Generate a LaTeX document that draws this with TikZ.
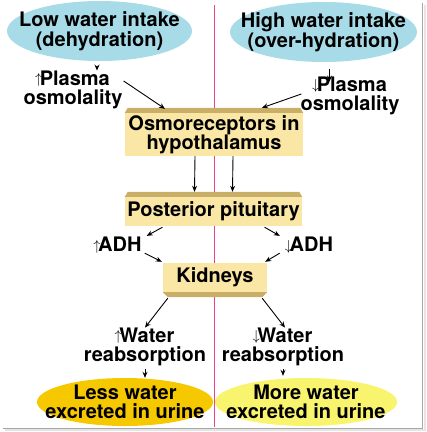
\documentclass[tikz,border=0pt]{standalone}
\usepackage{fontspec}
\setmainfont{TeX Gyre Heros}
\usetikzlibrary{shapes.geometric, arrows.meta}

\definecolor{sky}{RGB}{168,219,232}
\definecolor{boxfill}{RGB}{250,231,166}
\definecolor{bevelc}{RGB}{201,174,104}
\definecolor{gold}{RGB}{246,200,0}
\definecolor{lemon}{RGB}{249,244,110}
\definecolor{divpink}{RGB}{232,66,138}

\newcommand{\uparr}{\kern-1pt\raisebox{1.5pt}{\fontsize{15}{15}\selectfont$\uparrow$}\kern-2.5pt}
\newcommand{\dnarr}{\kern-1pt\raisebox{1.5pt}{\fontsize{15}{15}\selectfont$\downarrow$}\kern-2.5pt}

\begin{document}
\begin{tikzpicture}[x=1pt, y=-1pt,
    font=\bfseries\fontsize{20}{19.5}\selectfont,
    txt/.style={inner sep=0, align=center},
    blob/.style={ellipse, inner sep=0},
    box/.style={fill=boxfill, inner sep=0, align=center},
    bevel/.style={fill=bevelc},
    arr/.style={-{Stealth[length=6pt,width=5pt]}, line width=0.9pt}]
	% frame and divider
	\useasboundingbox (0,0) rectangle (427,432);
	\fill[gray!20] (423.5,5) rectangle (426,431);
	\fill[gray!20] (5,428.5) rectangle (426,431);
	\draw[gray!70, line width=1pt] (422,3) -- (422,428) -- (3,428);
	\draw[divpink, line width=1.3pt] (214.5,5) -- (214.5,427);
	
	% water intake
	\node[blob, fill=sky, minimum width=185, minimum height=60] (lowin) at (99.5,31) {};
	\node[txt] at (lowin) {Low water intake\\(dehydration)};
	\node[blob, fill=sky, minimum width=187, minimum height=60] (highin) at (323.5,32) {};
	\node[txt] at (highin) {High water intake\\(over-hydration)};
	\node[txt] (plasmaL) at (73,90) {\uparr Plasma\\osmolality};
	\node[txt] (plasmaR) at (350,96) {\dnarr Plasma\\osmolality};
	
	% boxes
	\node[box, minimum width=178, minimum height=43] (osmo) at (214,134.5) {Osmoreceptors in\\hypothalamus};
	\node[box, minimum width=177, minimum height=29] (pit) at (213.5,211.5) {Posterior pituitary};
	\node[box, minimum width=104, minimum height=29] (kid) at (215,277.5) {Kidneys};
	\foreach \n in {osmo, pit}
		\fill[bevel] (\n.north west) -- ([shift={(3,-5)}]\n.north west) -- ([shift={(-3,-5)}]\n.north east) -- (\n.north east) -- cycle;
	\fill[bevel] (kid.south west) -- ([shift={(5,5)}]kid.south west) -- ([shift={(-5,5)}]kid.south east) -- (kid.south east) -- cycle;
	
	% hormone and kidney response
	\node[txt] (adhL) at (118,245) {\uparr ADH};
	\node[txt] (adhR) at (309.5,245) {\dnarr ADH};
	\node[txt] (waterL) at (145,347) {\uparr Water\\reabsorption};
	\node[txt] (waterR) at (283,347) {\dnarr Water\\reabsorption};
	
	% outcome
	\node[blob, fill=gold, minimum width=176, minimum height=48] (lessout) at (125,402) {};
	\node[txt] at (lessout) {Less water\\excreted in urine};
	\node[blob, fill=lemon, minimum width=182, minimum height=48] (moreout) at (306,402) {};
	\node[txt] at (moreout) {More water\\excreted in urine};
	
	% arrows
	\draw[arr] ([shift={(-2.5,7)}]lowin.south) -- ([xshift=-2.5]lowin.south |- plasmaL.north);
	\draw[arr] ([shift={(6,7)}]highin.south) -- ([shift={(6,5)}]highin.south |- plasmaR.north);
	\draw[arr] ([shift={(1,-9)}]plasmaL.east) -- ([shift={(-49,-4)}]osmo.north);
	\draw[arr] ([shift={(1,-2)}]plasmaR.west) -- ([shift={(48,-5)}]osmo.north);
	\draw[arr] ([xshift=-19]osmo.south) -- ([shift={(-19,-5)}]pit.north);
	\draw[arr] ([xshift=19]osmo.south) -- ([shift={(19,-5)}]pit.north);
	\draw[arr] ([shift={(-51,1)}]pit.south) -- ([shift={(5,-1)}]adhL.north east);
	\draw[arr] ([shift={(51,1)}]pit.south) -- ([shift={(-6,-1)}]adhR.north west);
	\draw[arr] ([xshift=3]adhL.south east) -- ([shift={(-1,-1)}]kid.north west);
	\draw[arr] ([xshift=-6]adhR.south west) -- ([shift={(-2,-1)}]kid.north east);
	\draw[arr] ([shift={(5,6)}]kid.south west) -- (waterL.north);
	\draw[arr] ([shift={(-5,6)}]kid.south east) -- ([xshift=2]waterR.north);
	\draw[arr] ([yshift=-3]waterL.south) -- (waterL.south |- lessout.north);
	\draw[arr] ([yshift=-3]waterR.south) -- ([yshift=2]waterR.south |- moreout.north);
\end{tikzpicture}
\end{document}
